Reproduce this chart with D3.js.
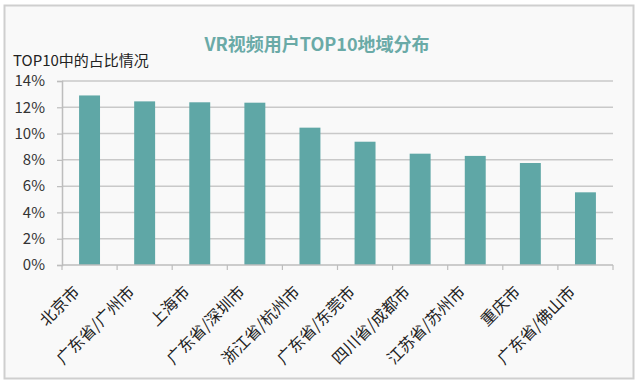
<!DOCTYPE html>
<html>
<head>
<meta charset="utf-8">
<script src="https://cdn.jsdelivr.net/npm/d3@7"></script>
<style>
  body { margin: 0; background: #fff; }
  text { font-family: "Noto Sans CJK SC", "Open Sans", sans-serif; }
</style>
</head>
<body>
<div id="container"></div>
<script>
let w = 639;
let h = 387;

// data
let cities = ["北京市", "广东省/广州市", "上海市", "广东省/深圳市", "浙江省/杭州市",
  "广东省/东莞市", "四川省/成都市", "江苏省/苏州市", "重庆市", "广东省/佛山市"];
let shares = [12.9, 12.45, 12.38, 12.35, 10.45, 9.38, 8.47, 8.3, 7.76, 5.53];
let yTicks = [0, 2, 4, 6, 8, 10, 12, 14];

let plotLeft = 62, plotRight = 613, plotTop = 81, plotBottom = 265;

let viz = d3.select("#container")
  .append("svg")
    .attr("width", w)
    .attr("height", h)
;

// frame
viz.append("rect")
    .attr("x", 4.5).attr("y", 5.5)
    .attr("width", 629).attr("height", 373)
    .attr("fill", "#f9f9f9")
    .attr("stroke", "#cfcfcf")
    .attr("stroke-width", 2)
;

let xScale = d3.scaleBand().domain(cities).range([plotLeft, plotRight]).paddingInner(0.62).paddingOuter(0.31);
let yScale = d3.scaleLinear().domain([0, 14]).range([plotBottom, plotTop]);

// gridlines
viz.append("g").selectAll("line").data(yTicks.slice(1)).enter()
  .append("line")
    .attr("x1", plotLeft).attr("x2", plotRight)
    .attr("y1", d => yScale(d)).attr("y2", d => yScale(d))
    .attr("stroke", "#c9c9c9")
    .attr("stroke-width", 1.5)
;

// y axis
let yAxis = d3.axisLeft(yScale).tickValues(yTicks).tickFormat(d => d + "%").tickSize(5).tickPadding(12);
let yAxisGroup = viz.append("g").attr("transform", "translate(" + plotLeft + ",0)").call(yAxis);
yAxisGroup.select(".domain").attr("stroke", "#bdbdbd").attr("stroke-width", 1.5);
yAxisGroup.selectAll(".tick line").attr("stroke", "#bdbdbd").attr("stroke-width", 1.2);
yAxisGroup.selectAll("text").attr("font-size", 15).attr("fill", "#333")
  .attr("font-family", "'Open Sans', sans-serif");

// bars
viz.append("g").selectAll("rect").data(shares).enter()
  .append("rect")
    .attr("x", (d, i) => xScale(cities[i]))
    .attr("y", d => yScale(d))
    .attr("width", xScale.bandwidth())
    .attr("height", d => yScale(0) - yScale(d))
    .attr("fill", "#5fa7a6")
;

// x axis
let step = xScale.step();
let xAxisGroup = viz.append("g").attr("transform", "translate(0," + plotBottom + ")");
xAxisGroup.append("line")
    .attr("x1", plotLeft).attr("x2", plotRight)
    .attr("stroke", "#bdbdbd").attr("stroke-width", 1.5);
xAxisGroup.selectAll(".tk").data(d3.range(cities.length + 1)).enter()
  .append("line")
    .attr("class", "tk")
    .attr("x1", i => plotLeft + i * step).attr("x2", i => plotLeft + i * step)
    .attr("y1", 0).attr("y2", 5)
    .attr("stroke", "#bdbdbd").attr("stroke-width", 1.2);
xAxisGroup.selectAll(".lbl").data(cities).enter()
  .append("text")
    .attr("class", "lbl")
    .attr("transform", d => "translate(" + (xScale(d) + xScale.bandwidth() / 2 - 14) + ",23) rotate(-45)")
    .attr("text-anchor", "end")
    .attr("dominant-baseline", "central")
    .attr("font-size", 16)
    .attr("fill", "#222")
    .text(d => d)
;

// titles
viz.append("text")
    .attr("x", 317).attr("y", 51)
    .attr("text-anchor", "middle")
    .attr("font-size", 18)
    .attr("font-weight", "bold")
    .attr("fill", "#6aaaa7")
    .text("VR视频用户TOP10地域分布");

viz.append("text")
    .attr("x", 13).attr("y", 66)
    .attr("font-size", 15)
    .attr("fill", "#222")
    .text("TOP10中的占比情况");
</script>
</body>
</html>
